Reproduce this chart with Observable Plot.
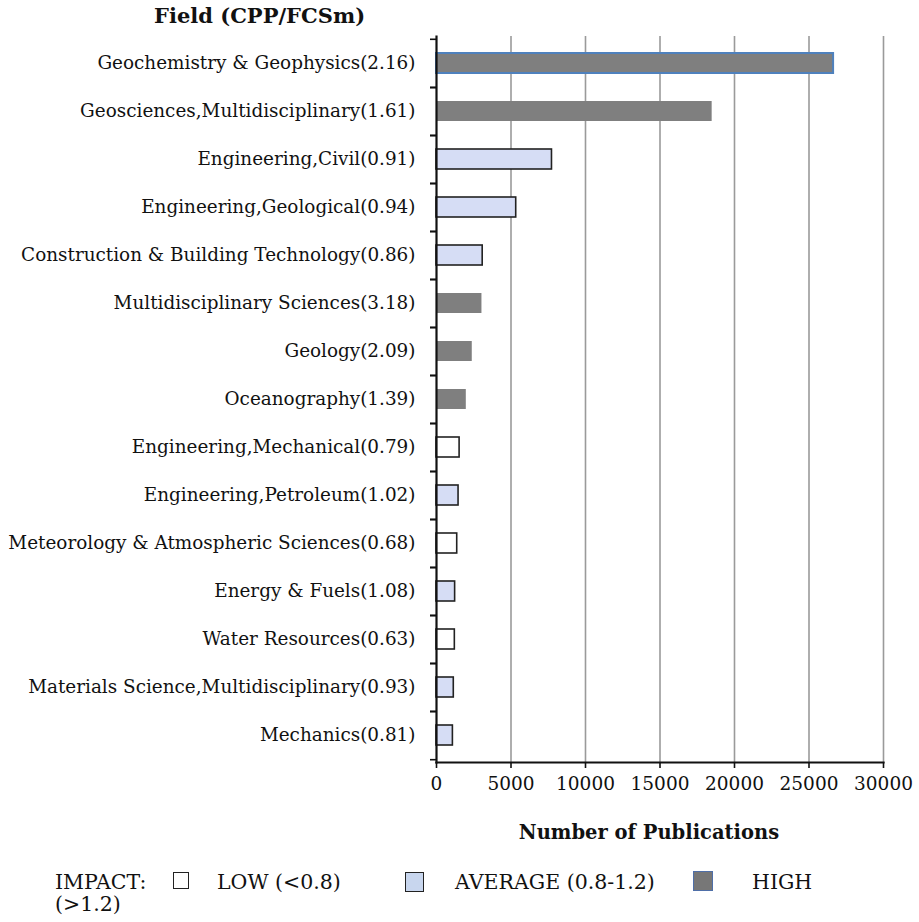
<!DOCTYPE html>
<html>
<head>
<meta charset="utf-8">
<script src="https://cdn.jsdelivr.net/npm/d3@7"></script>
<script src="https://cdn.jsdelivr.net/npm/@observablehq/plot@0.6"></script>
<style>
  html, body { margin: 0; padding: 0; background: #fff; }
  #wrap { position: relative; width: 919px; height: 922px; font-family: "DejaVu Serif", serif; color: #111; }
  #title { position: absolute; left: 154px; top: 3px; font-size: 21px; font-weight: bold; white-space: nowrap; }
  #chart { position: absolute; left: 0; top: 0; }
  .lg { position: absolute; font-size: 20.5px; font-family: "DejaVu Serif", serif; white-space: nowrap; line-height: 21px; color: #111; }
  .box { position: absolute; border: 1.5px solid #222; box-sizing: border-box; }
</style>
</head>
<body>
<div id="wrap">
  <div id="chart"></div>
  <div id="title">Field (CPP/FCSm)</div>
  <div id="legend"></div>
</div>
<script>
const fields = [
  "Geochemistry & Geophysics",
  "Geosciences,Multidisciplinary",
  "Engineering,Civil",
  "Engineering,Geological",
  "Construction & Building Technology",
  "Multidisciplinary Sciences",
  "Geology",
  "Oceanography",
  "Engineering,Mechanical",
  "Engineering,Petroleum",
  "Meteorology & Atmospheric Sciences",
  "Energy & Fuels",
  "Water Resources",
  "Materials Science,Multidisciplinary",
  "Mechanics"
];
const cppFcsm = [2.16, 1.61, 0.91, 0.94, 0.86, 3.18, 2.09, 1.39, 0.79, 1.02, 0.68, 1.08, 0.63, 0.93, 0.81];
const publications = [26650, 18500, 7750, 5350, 3100, 3050, 2400, 2000, 1550, 1480, 1390, 1250, 1230, 1160, 1100];
const impact = ["HIGH","HIGH","AVERAGE","AVERAGE","AVERAGE","HIGH","HIGH","HIGH","LOW","AVERAGE","LOW","AVERAGE","LOW","AVERAGE","AVERAGE"];
const xTicks = [0, 5000, 10000, 15000, 20000, 25000, 30000];
const xLabel = "Number of Publications";
const legendLabels = ["LOW (<0.8)", "AVERAGE (0.8-1.2)", "HIGH"];

const data = fields.map((f, i) => ({
  field: f,
  label: `${f}(${cppFcsm[i].toFixed(2)})`,
  pubs: publications[i],
  impact: impact[i]
}));
const labels = data.map(d => d.label);

const fillOf = {LOW: "#ffffff", AVERAGE: "#d6ddf5", HIGH: "#7f7f7f"};
const strokeOf = {LOW: "#222222", AVERAGE: "#222222", HIGH: "none"};

const W = 919, H = 845;
const chart = Plot.plot({
  width: W,
  height: H,
  marginTop: 36,
  marginBottom: H - 762,
  marginLeft: 436,
  marginRight: 36,
  style: {fontFamily: "DejaVu Serif, serif", fontSize: "18.4px", color: "#111", background: "white"},
  x: {domain: [0, 30000]},
  y: {domain: labels, paddingInner: 0.58, paddingOuter: 0.29},
  marks: [
    Plot.gridX(xTicks.slice(1), {stroke: "#9a9a9a", strokeOpacity: 1, strokeWidth: 1.6}),
    Plot.barX(data, {x: "pubs", y: "label", fill: d => fillOf[d.impact], stroke: d => strokeOf[d.impact], strokeWidth: 1.6}),
    Plot.barX(data.filter(d => d.field === "Geochemistry & Geophysics"), {x: "pubs", y: "label", fill: "none", stroke: "#4f81bd", strokeWidth: 2}),
    Plot.frame({anchor: "left", stroke: "#111", strokeWidth: 2.2}),
    Plot.frame({anchor: "bottom", stroke: "#111", strokeWidth: 2.2}),
    Plot.axisY({tickSize: 0, tickPadding: 21, fontSize: 18.4, label: null}),
    Plot.axisY({tickSize: 6, text: null, dy: -24.2, label: null, stroke: "#111", strokeWidth: 1.6}),
    Plot.axisY({tickSize: 6, text: null, dy: 24.2, label: null, stroke: "#111", strokeWidth: 1.6}),
    Plot.axisX({ticks: xTicks, tickSize: 6, tickPadding: 8, fontSize: 18.5, stroke: "#111", strokeWidth: 1.6,
      label: null, tickFormat: d => String(d)}),
    Plot.text([xLabel], {text: d => d, frameAnchor: "bottom", dy: 76, dx: -11, fontWeight: "bold", fontSize: 19.5, fill: "#111"})
  ]
});
document.getElementById("chart").appendChild(chart);

// legend (HTML)
const lg = document.getElementById("legend");
const legendItems = [
  {t: "IMPACT:", x: 55, y: 872},
  {box: "LOW", x: 173, y: 872, w: 16, h: 17},
  {t: legendLabels[0], x: 217, y: 872},
  {box: "AVERAGE", x: 405, y: 872, w: 19, h: 20},
  {t: legendLabels[1], x: 455, y: 872},
  {box: "HIGH", x: 693, y: 871, w: 20, h: 20},
  {t: legendLabels[2], x: 752, y: 872},
  {t: "(>1.2)", x: 55, y: 894}
];
const legendFill = {LOW: "#ffffff", AVERAGE: "#c8d6ee", HIGH: "#777777"};
for (const it of legendItems) {
  const el = document.createElement("div");
  if (it.box) {
    el.className = "box";
    el.style.background = legendFill[it.box];
    el.style.width = it.w + "px";
    el.style.height = it.h + "px";
    if (it.box === "HIGH") el.style.borderColor = "#4f6fa8";
  } else {
    el.className = "lg";
    el.textContent = it.t;
  }
  el.style.left = it.x + "px";
  el.style.top = it.y + "px";
  lg.appendChild(el);
}
</script>
</body>
</html>
